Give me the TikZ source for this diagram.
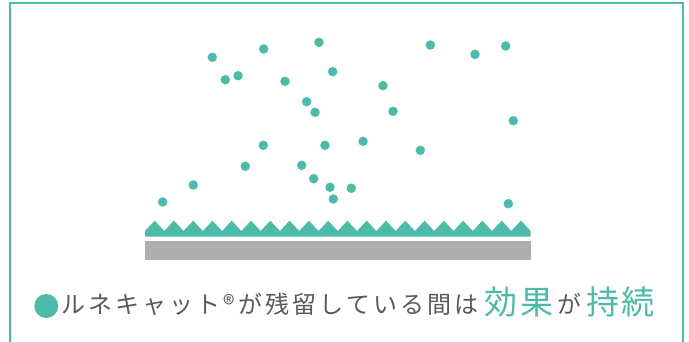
\documentclass[tikz,border=0pt]{standalone}
\usepackage{fontspec}
\newfontfamily\jpfont[LetterSpace=13]{Noto Sans CJK JP}
\newfontfamily\jpbig[LetterSpace=8]{Noto Sans CJK JP}
\definecolor{tealc}{HTML}{4DBBA9}
\definecolor{grayc}{HTML}{AFAEAD}
\definecolor{txtc}{HTML}{5A5A5A}
\tikzset{
  dot/.style={fill=tealc, draw=none, circle, minimum size=9.5pt, inner sep=0pt},
  small/.style={anchor=base west, inner sep=0pt, text=txtc, font=\jpfont\fontsize{24}{28}\selectfont},
  big/.style={anchor=base west, inner sep=0pt, text=tealc, font=\jpbig\fontsize{33}{36}\selectfont},
}
\begin{document}
\begin{tikzpicture}[x=1pt,y=-1pt]
\useasboundingbox (0,0) rectangle (689,342);
\fill[white] (0,0) rectangle (689,342);
% frame
\draw[tealc, line width=2pt] (10,342) -- (10,3.5) -- (682.7,3.5) -- (682.7,342);
% dots
\foreach \x/\y [count=\i] in {212.3/57.3, 263.7/49, 319/42.3, 430.3/45, 475/54.3, 505.7/46,
  225.3/79.7, 238/75.7, 285/81.3, 332.7/71.7, 383/85.7, 306.7/101.7, 315/112.3,
  393/111.3, 513.3/120.7, 263.3/145.3, 325/145.3, 363/141.3, 420.3/150.3,
  245.3/166.3, 301.7/165.3, 313.7/178.7, 330/187.3, 351.3/188.3, 333.3/199,
  193.3/185, 162.7/202, 508.3/203.7}
  \node[dot] (d\i) at (\x,\y) {};
% zigzag layer
\fill[tealc] (145,236.7) -- (145,231)
  \foreach \k in {0,...,19} { -- ({145+9.64+19.28*\k},220.7) -- ({145+19.28*(\k+1)},231) }
  -- (530.6,236.7) -- cycle;
% gray base
\fill[grayc] (145,241) rectangle (530.6,259.7);
% caption
\node[circle, fill=tealc, minimum size=24pt, inner sep=0pt] (bullet) at (46.3,306) {};
\node[small] (cap1) at (61,313) {ルネキャット®が残留している間は};
\node[big] (cap2) at (484.5,314) {効果};
\node[small] (cap3) at (557,313) {が};
\node[big] (cap4) at (586,314) {持続};
\end{tikzpicture}
\end{document}
